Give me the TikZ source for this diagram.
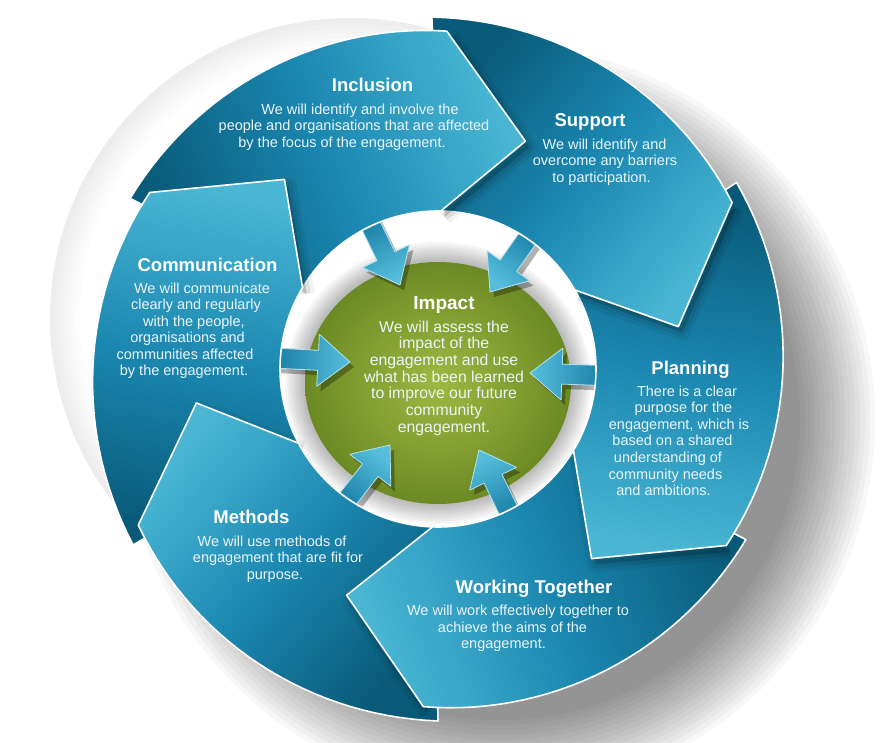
\documentclass[tikz,border=0pt]{standalone}
\usepackage{fontspec}
\setmainfont{Liberation Sans}
\definecolor{segd}{RGB}{9,90,120}
\definecolor{segm}{RGB}{27,135,176}
\definecolor{segl}{RGB}{74,182,212}
\definecolor{grin}{RGB}{160,184,66}
\definecolor{grout}{RGB}{108,138,36}
\definecolor{arl}{RGB}{86,190,220}
\definecolor{ard}{RGB}{20,122,162}
\definecolor{bodytxt}{RGB}{234,245,250}
% ring segment: #1 tip angle, #2 tip angle of the previous segment
\newcommand\segpath[2]{plot[domain=0:1,samples=31,variable=\s] ({#2+22-\s*(#2+2.5-(#1))}:{352-14*\s}) -- (#1:244) -- ({#1+20}:158) arc[start angle={#1+20},end angle={#2+20.5},radius=158] -- cycle}
\newcommand\drawseg[3]{\path[seg=#3] \segpath{#1}{#2};}
\newcommand\headshadow[1]{%
  \fill[black,opacity=.16,shift={(4,-6)}] ({#1+19.5}:338) -- (#1:244) -- ({#1+20}:158) -- cycle;
  \draw[black,opacity=.08,line width=8pt,line join=round,shift={(4,-6)}] ({#1+19.5}:338) -- (#1:244) -- ({#1+20}:158);
  \draw[black,opacity=.05,line width=16pt,line join=round,shift={(4,-6)}] ({#1+19.5}:338) -- (#1:244) -- ({#1+20}:158);}
\newcommand\arrowshape{(0,0) -- (-32,26) -- (-32,10) -- (-82,10) -- (-82,-10) -- (-32,-10) -- (-32,-26) -- cycle}
\newcommand\inarrow[4]{%
  \begin{scope}[shift={(#2+4,#3-5)},rotate=#4]
    \fill[black,opacity=.3] \arrowshape;
  \end{scope}
  \begin{scope}[shift={(#2,#3)},rotate=#4]
    \path[left color=ard,right color=arl,shading angle={#4+90},draw=white!55!arl,line width=.8pt,line join=round] \arrowshape;
    \coordinate (#1) at (0,0);
  \end{scope}}
\newcommand\shl[2]{\hspace*{#1pt}\hspace*{#1pt}#2}
\newcommand\ttl[1]{{\color{white}\fontsize{18.5}{22}\selectfont\bfseries #1}}
\begin{document}
\begin{tikzpicture}[x=1pt,y=1pt,
  seg/.style={top color=segl,bottom color=segd,middle color=segm,shading angle=#1,draw=white,line width=1.6pt,line join=round},
  blk/.style={text=bodytxt,align=center,inner sep=0pt,anchor=base,font=\fontsize{14.5}{16.5}\selectfont}]
\useasboundingbox (0,0) rectangle (883,742);
\fill[white] (0,0) rectangle (883,742);
% plate rim (upper left)
\foreach \i in {1,...,6} \fill[black,opacity=.012,even odd rule] (350,424) circle (300) (350,424) circle ({300-5*\i});
% soft shadow (lower right)
\foreach \r in {300,305,...,375} \fill[black,opacity=.03] (500,322) circle (\r);
% inner ring and green disc
\fill[white] (438,373) circle (172);
\foreach \i in {1,...,8} \fill[black,opacity=.035] (438,359) ellipse ({133+2.5*\i} and {121+2.5*\i});
\shade[inner color=grin,outer color=grout] (438,359) ellipse (133 and 121);
% inward arrows
\inarrow{a1}{400}{457}{-64}
\inarrow{a2}{490}{450}{-125}
\inarrow{a3}{350}{380}{-3}
\inarrow{a4}{530}{369}{178}
\inarrow{a5}{390}{297}{52}
\inarrow{a6}{479}{292}{116}
% ring segments
\begin{scope}[shift={(438,373)}]
  \drawseg{129}{188}{-10.5}
  \headshadow{-172}\drawseg{-172}{-112}{-311}
  \headshadow{-112}\drawseg{-112}{-51}{-250.5}
  \headshadow{-51}\drawseg{-51}{10}{-189.5}
  \headshadow{10}\drawseg{10}{69}{-129.5}
  \headshadow{69}\drawseg{69}{129}{-70}
  \begin{scope}
    \clip (0,0) -- (123:339.5) arc[start angle=123,end angle=153,radius=339.5] -- cycle;
    \headshadow{129}\drawseg{129}{188}{-10.5}
  \end{scope}
\end{scope}
% texts (node base = baseline of the last line)
\node[blk] (incl) at (372.5,594.8) {\ttl{Inclusion}\\[6pt]
  \shl{-12.5}{We will identify and involve the}\\
  \shl{-18.5}{people and organisations that are affected}\\
  \shl{-30.5}{by the focus of the engagement.}};
\node[blk] (supp) at (590,559.8) {\ttl{Support}\\[6pt]
  \shl{14.5}{We will identify and}\\
  \shl{15}{overcome any barriers}\\
  \shl{11.5}{to participation.}};
\node[blk] (comm) at (207.5,366.3) {\ttl{Communication}\\[5pt]
  \shl{-5.5}{We will communicate}\\
  \shl{-11.5}{clearly and regularly}\\
  \shl{-13.5}{with the people,}\\
  \shl{-20}{organisations and}\\
  \shl{-22.5}{communities affected}\\
  \shl{-23.5}{by the engagement.}};
\node[blk] (plan) at (690.5,246.5) {\ttl{Planning}\\[5pt]
  \shl{-3.5}{There is a clear}\\
  \shl{-7}{purpose for the}\\
  \shl{-11.5}{engagement, which is}\\
  \shl{-18}{based on a shared}\\
  \shl{-22.5}{understanding of}\\
  \shl{-25}{community needs}\\
  \shl{-27}{and ambitions.}};
\node[blk] (wt) at (534,93.2) {\ttl{Working Together}\\[6pt]
  \shl{-16}{We will work effectively together to}\\
  \shl{-21.5}{achieve the aims of the}\\
  \shl{-30.5}{engagement.}};
\node[blk] (meth) at (251.5,162.7) {\ttl{Methods}\\[6.5pt]
  \shl{20.5}{We will use methods of}\\
  \shl{26.5}{engagement that are fit for}\\
  \shl{23.5}{purpose.}};
\node[blk,font=\fontsize{15.8}{16.7}\selectfont] (impact) at (444,309.6) {{\color{white}\fontsize{19}{22}\selectfont\bfseries Impact}\\[5.5pt]
  We will assess the\\ impact of the\\ engagement and use\\ what has been learned\\
  to improve our future\\ community\\ engagement.};
\end{tikzpicture}
\end{document}
